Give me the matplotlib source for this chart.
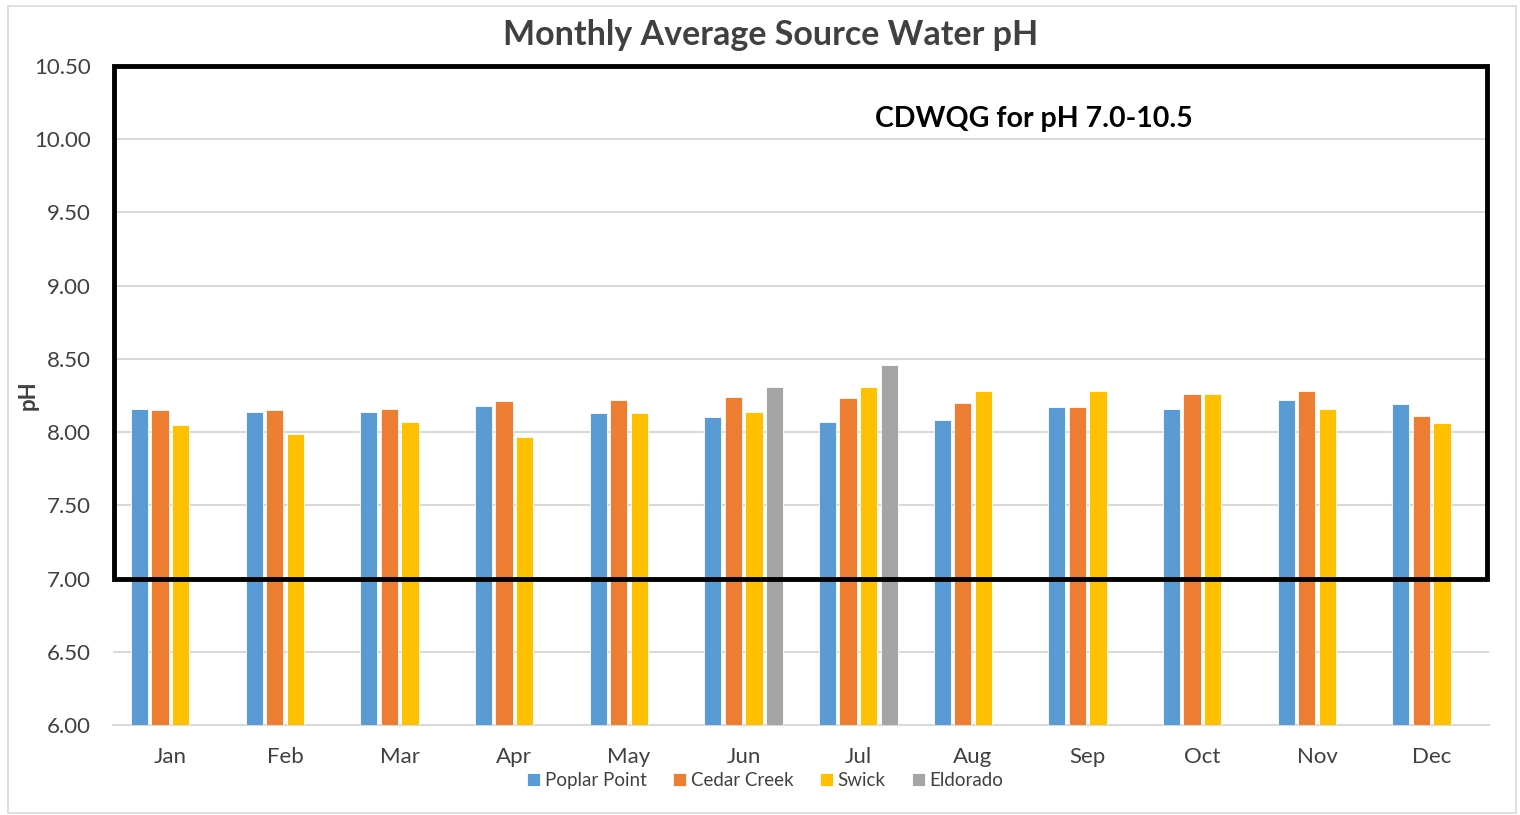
import numpy as np
import matplotlib
matplotlib.use("Agg")
import matplotlib.pyplot as plt
from matplotlib.patches import Rectangle
import matplotlib.transforms as mtransforms

months = ["Jan", "Feb", "Mar", "Apr", "May", "Jun", "Jul", "Aug", "Sep", "Oct", "Nov", "Dec"]
poplar_point = [8.16, 8.14, 8.14, 8.18, 8.13, 8.10, 8.07, 8.08, 8.17, 8.16, 8.22, 8.19]
cedar_creek = [8.15, 8.15, 8.16, 8.21, 8.22, 8.24, 8.23, 8.20, 8.17, 8.26, 8.28, 8.11]
swick = [8.05, 7.99, 8.07, 7.97, 8.13, 8.14, 8.31, 8.28, 8.28, 8.26, 8.16, 8.06]
eldorado = [np.nan, np.nan, np.nan, np.nan, np.nan, 8.31, 8.46, np.nan, np.nan, np.nan, np.nan, np.nan]
series_names = ["Poplar Point", "Cedar Creek", "Swick", "Eldorado"]
series_colors = ["#5B9BD5", "#ED7D31", "#FFC000", "#A5A5A5"]
y_ticks = [6.0, 6.5, 7.0, 7.5, 8.0, 8.5, 9.0, 9.5, 10.0, 10.5]
guideline_low = 7.0
guideline_high = 10.5
guideline_label = "CDWQG for pH 7.0-10.5"
title = "Monthly Average Source Water pH"

plt.rcParams['font.family'] = ['Lato', 'DejaVu Sans']

fig = plt.figure(figsize=(15.2, 8.15), dpi=100)
ax = fig.add_axes([113 / 1520, 1 - 725 / 815, (1489 - 113) / 1520, (725 - 66) / 815])

# outer chart border
fig.patches.append(Rectangle((8 / 1520, 2 / 815), (1516 - 8) / 1520, (809 - 2) / 815,
                             transform=fig.transFigure, fill=False,
                             edgecolor="#D9D9D9", linewidth=1.2))

x = np.arange(len(months))
slot = 0.179
width = 0.150
all_series = [poplar_point, cedar_creek, swick, eldorado]
for i, (vals, name, col) in enumerate(zip(all_series, series_names, series_colors)):
    offs = (i - 1.5) * slot
    v = np.array(vals, dtype=float)
    mask = ~np.isnan(v)
    ax.bar(x[mask] + offs, v[mask] - 6.0, width=width, bottom=6.0, color=col,
           edgecolor="white", linewidth=0.6, label=name, zorder=3)

ax.set_xlim(-0.5, len(months) - 0.5)
ax.set_ylim(6.0, 10.5)
ax.set_yticks(y_ticks)
ax.set_yticklabels([f"{t:.2f}" for t in y_ticks])
ax.set_xticks(x)
ax.set_xticklabels(months)
ax.tick_params(axis='both', length=0, labelsize=16, colors="#404040")
ax.tick_params(axis='y', pad=16)
ax.tick_params(axis='x', pad=16)
ax.grid(axis='y', color="#D9D9D9", linewidth=1.5, zorder=0)
ax.set_axisbelow(True)
for s in ["left", "right", "top"]:
    ax.spines[s].set_visible(False)
ax.spines["bottom"].set_color("#D9D9D9")
ax.spines["bottom"].set_linewidth(1.5)

ax.set_ylabel("pH", fontsize=16, fontweight="bold", color="#404040")
ax.yaxis.set_label_coords(-0.054, 0.5)

trans = mtransforms.blended_transform_factory(ax.transAxes, ax.transData)
ax.add_patch(Rectangle((0.001, guideline_low), 0.9975, guideline_high - guideline_low,
                       transform=trans, fill=False, edgecolor="black",
                       linewidth=3.5, zorder=5, clip_on=False, joinstyle="miter"))
ax.text(0.669, 10.14, guideline_label, transform=trans, ha="center", va="center",
        fontsize=20.5, fontweight="bold", color="black", zorder=6)

fig.text(771 / 1520, 1 - 35 / 815, title, ha="center", va="center",
         fontsize=24.5, fontweight="bold", color="#404040")

leg = ax.legend(loc="upper center", bbox_to_anchor=(0.474, -0.046), ncol=4, frameon=False,
                fontsize=13.5, handlelength=0.7, handleheight=0.7, handletextpad=0.25,
                columnspacing=1.4, labelcolor="#404040")

fig.savefig("out.png", dpi=100, facecolor="white")
